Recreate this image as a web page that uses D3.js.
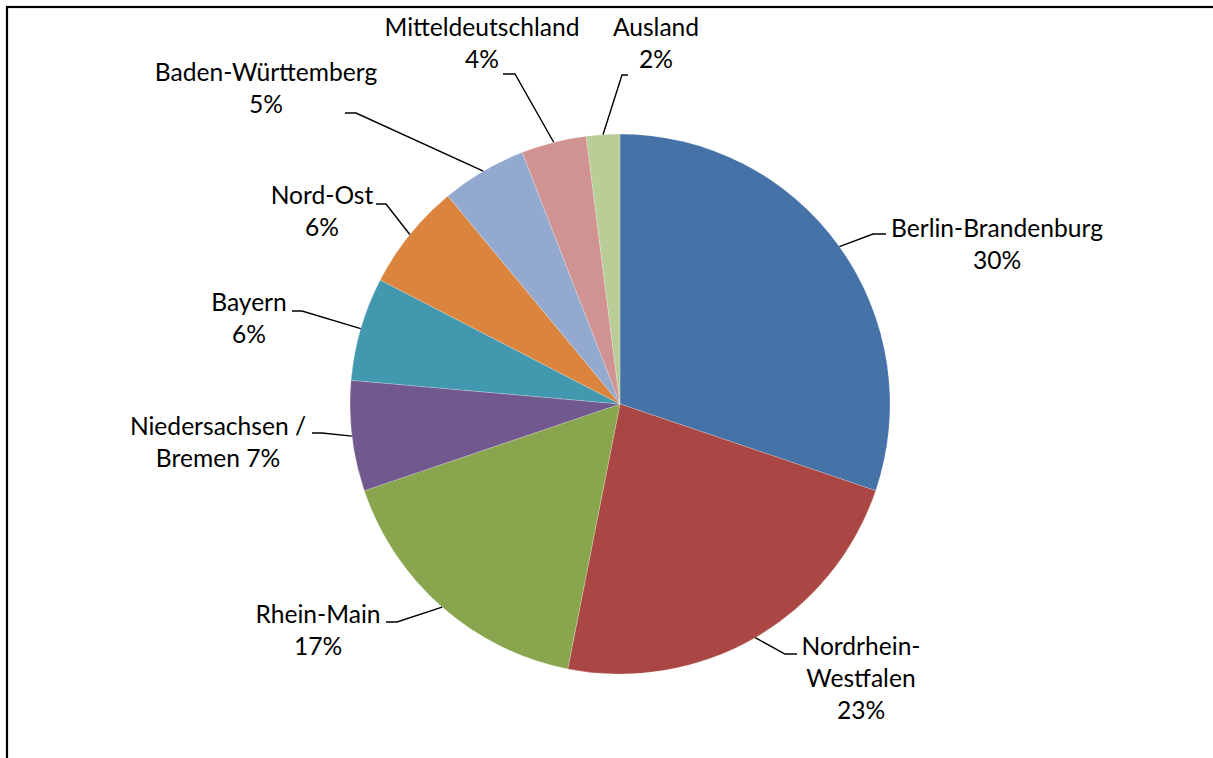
<!DOCTYPE html>
<html>
<head>
<meta charset="utf-8">
<script src="https://cdn.jsdelivr.net/npm/d3@7"></script>
<style>
  html, body { margin: 0; padding: 0; background: #fff; }
  svg { display: block; }
  text { font-family: "Lato", "Open Sans", sans-serif; fill: #000; }
</style>
</head>
<body>
<script>
// ---- data ----
const categories = ["Berlin-Brandenburg", "Nordrhein-Westfalen", "Rhein-Main", "Niedersachsen / Bremen",
  "Bayern", "Nord-Ost", "Baden-Württemberg", "Mitteldeutschland", "Ausland"];
const shares = [30.2, 22.9, 16.7, 6.6, 6.2, 6.4, 5.1, 3.9, 2.0];
const colors = ["#4572A7", "#AA4643", "#89A54E", "#71588F", "#4198AF", "#DB843D", "#93A9CF", "#D19392", "#B9CD96"];
// label line templates ({p} = percentage)
const labelLines = [
  ["Berlin-Brandenburg", "{p}"],
  ["Nordrhein-", "Westfalen", "{p}"],
  ["Rhein-Main", "{p}"],
  ["Niedersachsen /", "Bremen {p}"],
  ["Bayern", "{p}"],
  ["Nord-Ost", "{p}"],
  ["Baden-Württemberg", "{p}"],
  ["Mitteldeutschland", "{p}"],
  ["Ausland", "{p}"]
];
// ---- layout (label placement: center x, first baseline y; leader anchor near label; knee x) ----
const labelLayout = [
  {x: 997, y: 237, ax: 886, ay: 234, kx: 873},
  {x: 861, y: 655, ax: 797, ay: 654, kx: 785},
  {x: 318, y: 623, ax: 386, ay: 622, kx: 397},
  {x: 218, y: 435, ax: 312, ay: 433, kx: 322},
  {x: 249, y: 311, ax: 292, ay: 311, kx: 302},
  {x: 322, y: 204, ax: 376, ay: 204, kx: 386},
  {x: 266, y: 81,  ax: 345, ay: 113, kx: 356},
  {x: 482, y: 36,  ax: 503, ay: 74,  kx: 515},
  {x: 656, y: 36,  ax: 628, ay: 75,  kx: 622}
];

const W = 1213, H = 758;
const cx = 620, cy = 404, R = 270;
const lineH = 32;

const svg = d3.select("body").append("svg").attr("width", W).attr("height", H);

// frame
svg.append("rect").attr("x", 7).attr("y", 7).attr("width", W + 20).attr("height", H + 20)
  .attr("fill", "none").attr("stroke", "#000").attr("stroke-width", 2.2);

const data = categories.map((c, i) => ({name: c, value: shares[i], color: colors[i], lines: labelLines[i], lay: labelLayout[i]}));

const pie = d3.pie().value(d => d.value).sort(null).startAngle(0).endAngle(2 * Math.PI);
const arcs = pie(data);
const arc = d3.arc().innerRadius(0).outerRadius(R);
const edge = d3.arc().innerRadius(R).outerRadius(R);

const g = svg.append("g").attr("transform", `translate(${cx},${cy})`);
g.selectAll("path.slice").data(arcs).join("path")
  .attr("class", "slice")
  .attr("d", arc)
  .attr("fill", d => d.data.color)
  .attr("stroke", "rgba(255,255,255,0.35)")
  .attr("stroke-width", 0.6);

// leader lines
const line = d3.line();
svg.selectAll("path.leader").data(arcs).join("path")
  .attr("class", "leader")
  .attr("fill", "none").attr("stroke", "#000").attr("stroke-width", 1.4)
  .attr("d", d => {
    const [px, py] = edge.centroid(d);
    const L = d.data.lay;
    return line([[L.ax, L.ay], [L.kx, L.ay], [cx + px, cy + py]]);
  });

// labels
const fmt = v => Math.round(v) + "%";
const labels = svg.selectAll("text.lbl").data(arcs).join("text")
  .attr("class", "lbl")
  .attr("text-anchor", "middle")
  .attr("font-size", 24.6);
labels.each(function(d) {
  const t = d3.select(this);
  d.data.lines.forEach((s, k) => {
    t.append("tspan")
      .attr("x", d.data.lay.x)
      .attr("y", d.data.lay.y + k * lineH)
      .text(s.replace("{p}", fmt(d.data.value)));
  });
});
</script>
</body>
</html>
